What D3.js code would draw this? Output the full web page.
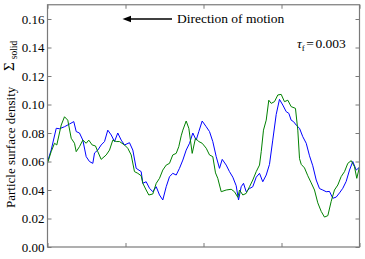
<!DOCTYPE html>
<html><head><meta charset="utf-8">
<script src="https://cdn.jsdelivr.net/npm/d3@7"></script>
<style>body{margin:0;background:#fff}svg{display:block}</style>
</head><body>
<svg id="c" width="365" height="259"></svg>
<script>
// x in units of the (unlabelled) bottom tick spacing, y = particle surface density
const blueX = [0,0.047,0.112,0.154,0.218,0.282,0.337,0.368,0.410,0.453,0.496,0.538,0.581,0.603,0.645,0.688,0.731,0.773,0.817,0.859,0.901,0.945,0.987,1.051,1.094,1.137,1.201,1.222,1.265,1.308,1.350,1.394,1.436,1.478,1.522,1.564,1.606,1.650,1.692,1.735,1.778,1.821,1.863,1.906,1.940,1.983,2.035,2.077,2.119,2.163,2.205,2.240,2.291,2.333,2.376,2.419,2.449,2.483,2.513,2.547,2.590,2.632,2.676,2.718,2.760,2.804,2.846,2.888,2.932,2.974,3.017,3.060,3.094,3.124,3.154,3.188,3.231,3.273,3.317,3.359,3.401,3.445,3.487,3.529,3.573,3.615,3.658,3.701,3.744,3.786,3.829,3.872,3.914,3.958,4.0];
const blueY = [0.0599,0.068,0.0833,0.083,0.0844,0.0863,0.088,0.081,0.080,0.075,0.0634,0.060,0.0587,0.066,0.068,0.0716,0.074,0.082,0.0786,0.074,0.080,0.075,0.0716,0.0732,0.068,0.0552,0.0529,0.0447,0.0458,0.0412,0.0388,0.0423,0.0365,0.033,0.0423,0.0493,0.0517,0.0505,0.0552,0.061,0.068,0.0728,0.080,0.075,0.081,0.0884,0.0844,0.081,0.074,0.0634,0.0552,0.0615,0.0575,0.0529,0.049,0.043,0.033,0.0423,0.0447,0.0388,0.041,0.0423,0.049,0.0517,0.0458,0.0505,0.058,0.075,0.093,0.1036,0.0996,0.095,0.0938,0.089,0.088,0.0856,0.0833,0.0774,0.0728,0.064,0.057,0.047,0.041,0.040,0.0388,0.039,0.0342,0.035,0.038,0.0412,0.046,0.054,0.060,0.054,0.056];
const greenX = [0,0.047,0.090,0.119,0.176,0.218,0.260,0.304,0.346,0.368,0.410,0.453,0.496,0.529,0.573,0.615,0.645,0.688,0.753,0.795,0.837,0.881,0.923,0.987,1.029,1.073,1.115,1.158,1.201,1.222,1.265,1.299,1.350,1.394,1.436,1.478,1.522,1.564,1.606,1.650,1.683,1.714,1.735,1.778,1.812,1.855,1.897,1.940,1.983,2.035,2.077,2.119,2.154,2.183,2.227,2.291,2.355,2.397,2.440,2.462,2.504,2.547,2.590,2.632,2.676,2.718,2.740,2.769,2.804,2.837,2.868,2.910,2.953,2.996,3.038,3.081,3.124,3.179,3.209,3.231,3.253,3.295,3.337,3.381,3.423,3.465,3.509,3.551,3.594,3.637,3.679,3.722,3.765,3.808,3.850,3.894,3.936,3.965,4.0];
const greenY = [0.0587,0.0669,0.0728,0.0716,0.0856,0.0914,0.089,0.0763,0.0728,0.0669,0.0704,0.075,0.0728,0.075,0.0716,0.0709,0.0669,0.0615,0.0646,0.068,0.075,0.074,0.074,0.0716,0.0693,0.0646,0.0529,0.0517,0.050,0.0447,0.040,0.0365,0.0372,0.0447,0.0482,0.054,0.0575,0.0587,0.0646,0.0657,0.0704,0.078,0.082,0.0884,0.0833,0.0657,0.0763,0.074,0.0728,0.0693,0.0646,0.0634,0.052,0.0482,0.0388,0.040,0.0405,0.0388,0.0349,0.040,0.0365,0.0376,0.0423,0.047,0.0529,0.0575,0.0669,0.082,0.089,0.103,0.1008,0.102,0.1067,0.1071,0.102,0.103,0.0985,0.0973,0.082,0.062,0.058,0.0555,0.050,0.045,0.040,0.031,0.025,0.021,0.022,0.032,0.040,0.0435,0.0494,0.0529,0.0587,0.0606,0.0563,0.0482,0.0563];
const yTicks = [0,0.02,0.04,0.06,0.08,0.10,0.12,0.14,0.16];
const xTicks = [0,1,2,3,4];
const yLabel = "Particle surface density";
const annotation = "Direction of motion";
const tauValue = "0.003";

const svg = d3.select("#c");
const L = 47.5, R = 359.5, T = 4.75, B = 247;
const x = d3.scaleLinear().domain([0,4]).range([L,R]);
const y = d3.scaleLinear().domain([0,0.17]).range([B,T]);
const FONT = '"Liberation Serif"';
function serif(sel, size){ return sel.style("font-family",FONT).style("font-size",size+"px").style("fill","#000"); }

svg.append("defs").append("clipPath").attr("id","clip")
  .append("rect").attr("x",L).attr("y",T).attr("width",R-L).attr("height",B-T);

const line = d3.line().x(d=>x(d[0])).y(d=>y(d[1]));
const series = [
  {xs: blueX, ys: blueY, color: "#0000ff"},
  {xs: greenX, ys: greenY, color: "#008000"}
];
series.forEach(s=>{
  svg.append("path").attr("clip-path","url(#clip)")
    .datum(s.xs.map((v,i)=>[v,s.ys[i]]))
    .attr("d",line).attr("fill","none").attr("stroke",s.color)
    .attr("stroke-width",1).attr("stroke-linejoin","round");
});

const spine = "#7a7a7a";
function styleAxis(g){
  g.select(".domain").remove();
  g.selectAll(".tick line").attr("stroke",spine).attr("stroke-width",1);
  serif(g.selectAll(".tick text"), 13);
}
svg.append("g").attr("transform",`translate(${L},0)`)
  .call(d3.axisLeft(y).tickValues(yTicks).tickFormat(d3.format(".2f")).tickSizeInner(-4).tickSizeOuter(0).tickPadding(3))
  .call(styleAxis);
svg.append("g").attr("transform",`translate(${R},0)`)
  .call(d3.axisRight(y).tickValues(yTicks).tickFormat("").tickSizeInner(-4).tickSizeOuter(0))
  .call(styleAxis);
svg.append("g").attr("transform",`translate(0,${B})`)
  .call(d3.axisBottom(x).tickValues(xTicks).tickFormat("").tickSizeInner(-4).tickSizeOuter(0))
  .call(styleAxis);
svg.append("g").attr("transform",`translate(0,${T})`)
  .call(d3.axisTop(x).tickValues(xTicks).tickFormat("").tickSizeInner(-4).tickSizeOuter(0))
  .call(styleAxis);
svg.append("rect").attr("x",L).attr("y",T).attr("width",R-L).attr("height",B-T)
  .attr("fill","none").attr("stroke",spine).attr("stroke-width",1.2);

// y label
serif(svg.append("text").attr("transform","translate(15,208) rotate(-90)"), 13).text(yLabel);
const sig = serif(svg.append("text").attr("transform","translate(14,71) rotate(-90)"), 15);
sig.append("tspan").text("Σ");
sig.append("tspan").style("font-size","9.5px").attr("dy",3).attr("dx",3).text("solid");

// arrow + annotation
svg.append("line").attr("x1",172).attr("y1",19).attr("x2",130).attr("y2",19)
  .attr("stroke","#000").attr("stroke-width",1.5);
svg.append("path").attr("d","M122.5,19 L131,15.8 L131,22.2 Z").attr("fill","#000");
serif(svg.append("text").attr("x",177).attr("y",23), 13.5).text(annotation);

// tau label
const tau = serif(svg.append("text").attr("x",297).attr("y",48), 13.5);
tau.append("tspan").style("font-style","italic").text("τ");
tau.append("tspan").style("font-size","9px").attr("dy",3).text("f");
tau.append("tspan").attr("dy",-3).attr("dx",1.5).text("=");
tau.append("tspan").attr("dx",1.5).text(tauValue);
</script>
</body></html>
